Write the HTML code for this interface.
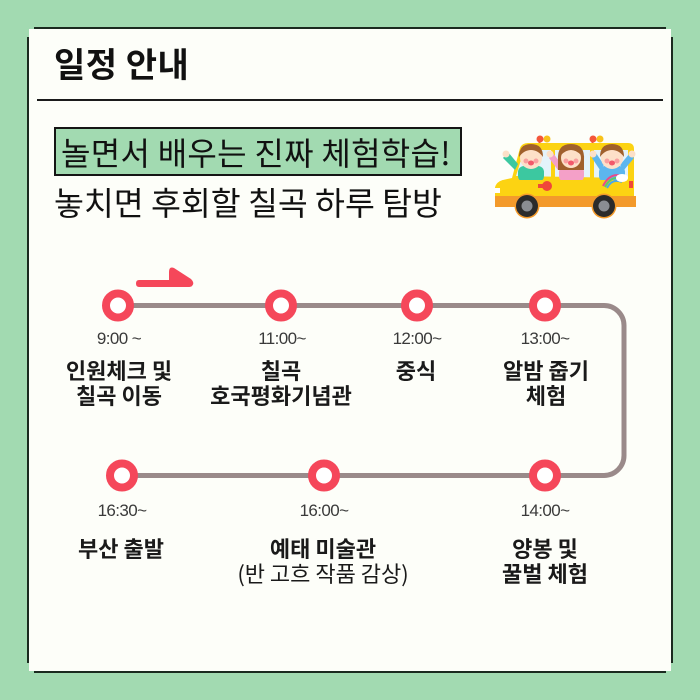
<!DOCTYPE html>
<html><head><meta charset="utf-8">
<style>
html,body{margin:0;padding:0;}
body{width:700px;height:700px;background:#a2dab1;position:relative;overflow:hidden;font-family:"Liberation Sans","Noto Sans CJK KR",sans-serif;}
.abs{position:absolute;}
.t{position:absolute;width:120px;text-align:center;font-size:17px;line-height:20px;font-weight:300;color:#3a3a3a;font-family:"Liberation Sans","Noto Sans CJK KR",sans-serif;letter-spacing:-0.6px;}
.l{position:absolute;width:240px;text-align:center;font-size:22px;line-height:25px;font-weight:700;color:#1a1a1a;font-family:"Noto Sans CJK KR",sans-serif;}
</style></head>
<body>
<div class="abs" style="left:29px;top:29px;width:642px;height:642px;background:#fdfef9;"></div>
<div class="abs" style="left:34px;top:27px;width:632px;height:2px;background:#1b2a1f;"></div>
<div class="abs" style="left:34px;top:671px;width:632px;height:2px;background:#1b2a1f;"></div>
<div class="abs" style="left:27px;top:37px;width:2px;height:626px;background:#1b2a1f;"></div>
<div class="abs" style="left:671px;top:37px;width:2px;height:626px;background:#1b2a1f;"></div>

<div class="abs" style="left:54px;top:43px;font-size:34px;line-height:40px;letter-spacing:0.5px;font-weight:700;color:#111;font-family:'Noto Sans CJK KR',sans-serif;white-space:nowrap;">일정 안내</div>
<div class="abs" style="left:37px;top:99px;width:626px;height:2px;background:#1b1b1b;"></div>

<div class="abs" style="left:54px;top:127px;width:404px;height:45px;background:#a2dab1;border:2px solid #151515;"></div>
<div class="abs" style="left:61px;top:130px;font-size:32px;line-height:44px;letter-spacing:0.3px;color:#111;font-family:'Noto Sans CJK KR',sans-serif;white-space:nowrap;">놀면서 배우는 진짜 체험학습!</div>
<div class="abs" style="left:54px;top:181px;font-size:32.5px;line-height:42px;color:#111;font-family:'Noto Sans CJK KR',sans-serif;white-space:nowrap;">놓치면 후회할 칠곡 하루 탐방</div>

<svg class="abs" style="left:0;top:0" width="700" height="700" viewBox="0 0 700 700">
  <g>
    <circle cx="540" cy="139" r="3.5" fill="#f4563a"/>
    <circle cx="547" cy="139" r="3.5" fill="#f8c21a"/>
    <circle cx="593" cy="139" r="3.5" fill="#f4563a"/>
    <circle cx="600" cy="139" r="3.5" fill="#f8c21a"/>
    <rect x="538.5" y="140" width="2" height="5" fill="#f4563a"/>
    <rect x="591.5" y="140" width="2" height="5" fill="#f4563a"/>
    <path d="M520 148 Q522 143 528 143 L628 143 Q634 143 634 149 L634 200 L495 200 L495 188 Q496 182 503 180 L512 178 Z" fill="#fcd312"/>
    <path d="M516 176 L524 150 L628 150 L628 178 Z" fill="#e4f3fb"/>
    <rect x="551" y="150" width="4" height="30" fill="#fcd312"/>
    <rect x="590" y="150" width="4" height="30" fill="#fcd312"/>
    <g>
      <path d="M503 158 L515 170 L518 164 L508 152 Z" fill="#3cc8a0"/>
      <circle cx="506" cy="154" r="3.5" fill="#fde0c8"/>
      <rect x="518" y="166" width="26" height="16" rx="6" fill="#3cc8a0"/>
      <circle cx="531" cy="158" r="11" fill="#fde0c8"/>
      <path d="M519 157 Q519 144 531 144 Q543 144 543 157 Q538 150 531 150 Q524 150 519 157 Z" fill="#a0602c"/>
      <circle cx="526" cy="161" r="2.5" fill="#f9a0a0"/>
      <circle cx="536" cy="161" r="2.5" fill="#f9a0a0"/>
      <ellipse cx="531" cy="163" rx="3" ry="2.5" fill="#f2596a"/>
    </g>
    <g>
      <path d="M549 158 L558 170 L562 165 L553 153 Z" fill="#f4a0c8"/>
      <circle cx="550" cy="154" r="3.5" fill="#fde0c8"/>
      <rect x="559" y="166" width="25" height="16" rx="6" fill="#f4a0c8"/>
      <path d="M558 160 Q557 144 571 144 Q585 144 584 160 L584 170 L558 170 Z" fill="#a0602c"/>
      <circle cx="571" cy="158" r="10" fill="#fde0c8"/>
      <path d="M561 155 Q562 146 571 146 Q580 146 581 155 Q576 150 571 150 Q566 150 561 155 Z" fill="#a0602c"/>
      <circle cx="566" cy="161" r="2.5" fill="#f9a0a0"/>
      <circle cx="576" cy="161" r="2.5" fill="#f9a0a0"/>
      <ellipse cx="571" cy="163" rx="3" ry="2.5" fill="#f2596a"/>
    </g>
    <g>
      <path d="M592 158 L600 170 L604 165 L596 153 Z" fill="#5cb6ee"/>
      <path d="M634 158 L624 170 L620 165 L630 153 Z" fill="#5cb6ee"/>
      <circle cx="593" cy="154" r="3.5" fill="#fde0c8"/>
      <circle cx="632" cy="154" r="3.5" fill="#fde0c8"/>
      <rect x="599" y="166" width="26" height="16" rx="6" fill="#5cb6ee"/>
      <circle cx="612" cy="158" r="11" fill="#fde0c8"/>
      <path d="M600 157 Q600 144 612 144 Q624 144 624 157 Q619 150 612 150 Q605 150 600 157 Z" fill="#a0602c"/>
      <circle cx="607" cy="161" r="2.5" fill="#f9a0a0"/>
      <circle cx="617" cy="161" r="2.5" fill="#f9a0a0"/>
      <ellipse cx="612" cy="163" rx="3" ry="2.5" fill="#f2596a"/>
    </g>
    <path d="M495 180 L634 180 L634 200 L495 200 L495 188 Q496 182 503 180 Z" fill="#fcd312"/>
    <rect x="495" y="196" width="141" height="11" fill="#f39a2b"/>
    <circle cx="547" cy="186" r="5" fill="#f0473a"/>
    <rect x="538" y="184" width="6" height="4" fill="#f0473a"/>
    <path d="M603 186 Q610 172 622 176" stroke="#e94a8a" stroke-width="2" fill="none"/>
    <path d="M605 187 Q611 175 622 179" stroke="#5cc86a" stroke-width="2" fill="none"/>
    <path d="M607 188 Q612 178 622 182" stroke="#4aa8e8" stroke-width="2" fill="none"/>
    <ellipse cx="622" cy="178" rx="6" ry="4" fill="#fff"/>
    <rect x="629" y="181" width="4" height="7" fill="#f0473a"/>
    <rect x="495" y="188" width="5" height="5" fill="#fff"/>
    <circle cx="527" cy="206" r="12.5" fill="#f39a2b"/>
    <circle cx="527" cy="206" r="11" fill="#2b2b2b"/>
    <circle cx="527" cy="206" r="5.5" fill="#8a8d92"/>
    <circle cx="604" cy="206" r="12.5" fill="#f39a2b"/>
    <circle cx="604" cy="206" r="11" fill="#2b2b2b"/>
    <circle cx="604" cy="206" r="5.5" fill="#8a8d92"/>
  </g>

  <path d="M118 305.5 H604 A20 20 0 0 1 624 325.5 V455.5 A20 20 0 0 1 604 475.5 H122" stroke="#9a8a8a" stroke-width="5" fill="none"/>
  <path d="M139 280 H169 V272 Q169 266 174 268 L191 279 Q195 283 192 286 Q191 287 188 287 H139 Q136 287 136 283.5 Q136 280 139 280 Z" fill="#f5475a"/>
  <g fill="#ffffff" stroke="#f5475a" stroke-width="8">
    <circle cx="118" cy="305.5" r="12"/>
    <circle cx="281" cy="305.5" r="12"/>
    <circle cx="417" cy="305.5" r="12"/>
    <circle cx="545" cy="305.5" r="12"/>
    <circle cx="122" cy="475.5" r="12"/>
    <circle cx="324" cy="475.5" r="12"/>
    <circle cx="545" cy="475.5" r="12"/>
  </g>
</svg>

<div class="t" style="left:59px;top:329px;">9:00 ~</div>
<div class="t" style="left:222px;top:329px;">11:00~</div>
<div class="t" style="left:357px;top:329px;">12:00~</div>
<div class="t" style="left:485px;top:329px;">13:00~</div>
<div class="t" style="left:62px;top:501px;">16:30~</div>
<div class="t" style="left:264px;top:501px;">16:00~</div>
<div class="t" style="left:485px;top:501px;">14:00~</div>

<div class="l" style="left:-1px;top:358px;">인원체크 및<br>칠곡 이동</div>
<div class="l" style="left:161px;top:358px;">칠곡<br>호국평화기념관</div>
<div class="l" style="left:296px;top:358px;">중식</div>
<div class="l" style="left:426px;top:358px;">알밤 줍기<br>체험</div>
<div class="l" style="left:1px;top:536px;">부산 출발</div>
<div class="l" style="left:203px;top:536px;">예태 미술관<br><span style="font-weight:400;">(반 고흐 작품 감상)</span></div>
<div class="l" style="left:425px;top:536px;">양봉 및<br>꿀벌 체험</div>
</body></html>
